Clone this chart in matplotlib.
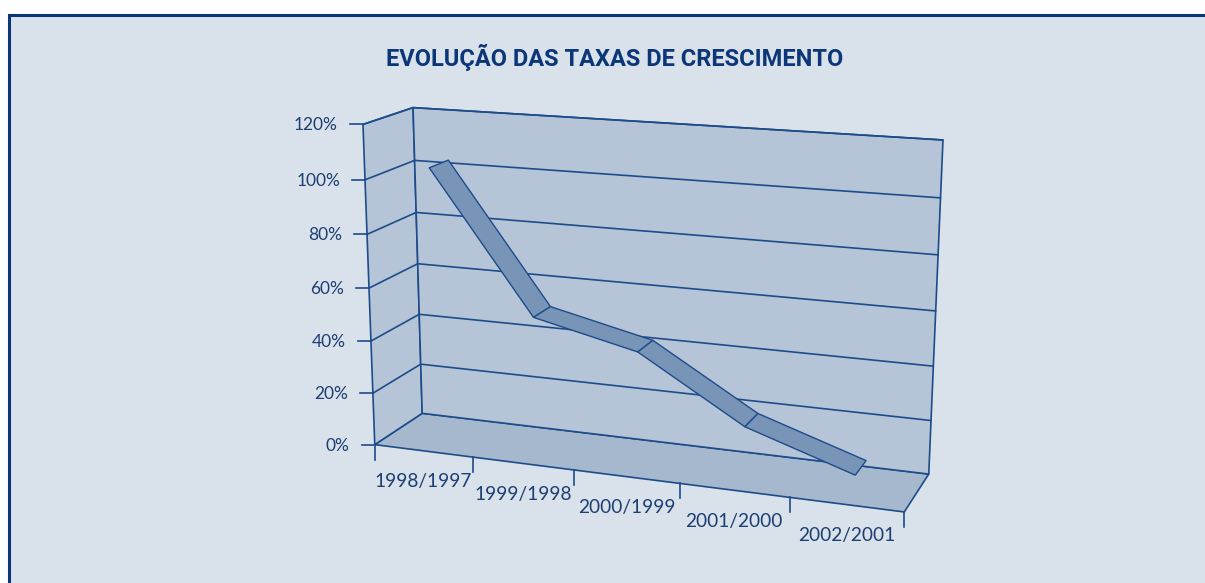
import numpy as np
import matplotlib
matplotlib.use("Agg")
import matplotlib.pyplot as plt
from matplotlib.patches import Polygon, Rectangle

# ---------------- data ----------------
title = "EVOLUÇÃO DAS TAXAS DE CRESCIMENTO"
categories = ["1998/1997", "1999/1998", "2000/1999", "2001/2000", "2002/2001"]
growth = [1.036, 0.517, 0.428, 0.196, 0.067]
y_ticks = [0.0, 0.2, 0.4, 0.6, 0.8, 1.0, 1.2]
y_tick_labels = ["0%", "20%", "40%", "60%", "80%", "100%", "120%"]

# ---------------- layout ----------------
W, H = 1205, 583
VMAX = 1.2
NCAT = len(categories)
# screen position of the 3D box corners (category, value, depth) -> pixel
box_3d = [(0, 0, 0), (0, VMAX, 0), (0, 0, 1), (0, VMAX, 1),
          (NCAT, VMAX, 1), (NCAT, 0, 1), (NCAT, 0, 0)]
box_px = [(375, 445), (363, 124), (422, 413), (413, 108),
          (943, 140), (929, 474), (904, 512)]
# ribbon depth extent (fraction of box depth)
D0, D1 = 0.29, 0.69


def fit_camera(X, x):
    A = []
    for (c, v, d), (u, w) in zip(X, x):
        Xh = [c, v, d, 1.0]
        A.append(Xh + [0, 0, 0, 0] + [-u * t for t in Xh])
        A.append([0, 0, 0, 0] + Xh + [-w * t for t in Xh])
    _, _, Vt = np.linalg.svd(np.array(A, float))
    return Vt[-1].reshape(3, 4)


P = fit_camera(box_3d, box_px)


def proj(c, v, d):
    p = P @ np.array([c, v, d, 1.0])
    return p[0] / p[2], p[1] / p[2]


BG = "#d9e1ea"
WALL = "#b5c4d7"
FLOOR = "#a5b8ce"
RIBBON = "#7894b7"
LINE = "#1d4c8a"
NAVY = "#0b3677"
TXT = "#1d3f73"

fig = plt.figure(figsize=(W / 100, H / 100), dpi=100)
fig.patch.set_facecolor("white")
ax = fig.add_axes([0, 0, 1, 1])
ax.set_xlim(0, W)
ax.set_ylim(H, 0)
ax.axis("off")

ax.add_patch(Rectangle((9, 15), W + 20, H + 20, facecolor=BG,
                       edgecolor=NAVY, linewidth=2.2, zorder=0))

ax.text(W / 2 + 12, 57, title, ha="center", va="center", fontsize=17,
        fontweight="bold", color=NAVY, family=["Roboto", "DejaVu Sans"])


def poly(pts3, fc, lw=1.2, z=1):
    pts = [proj(*p) for p in pts3]
    ax.add_patch(Polygon(pts, closed=True, facecolor=fc, edgecolor=LINE,
                         linewidth=lw, zorder=z, joinstyle="round"))


def line3(pts3, lw=1.2, z=2):
    pts = np.array([proj(*p) for p in pts3])
    ax.plot(pts[:, 0], pts[:, 1], color=LINE, lw=lw, zorder=z,
            solid_capstyle="round")


# floor, left wall, back wall
poly([(0, 0, 0), (NCAT, 0, 0), (NCAT, 0, 1), (0, 0, 1)], FLOOR)
poly([(0, 0, 0), (0, VMAX, 0), (0, VMAX, 1), (0, 0, 1)], WALL)
poly([(0, 0, 1), (NCAT, 0, 1), (NCAT, VMAX, 1), (0, VMAX, 1)], WALL)

# gridlines
for v in y_ticks[1:]:
    line3([(0, v, 0), (0, v, 1), (NCAT, v, 1)])

# value-axis ticks and labels
for v, lab in zip(y_ticks, y_tick_labels):
    x0, y0 = proj(0, v, 0)
    ax.plot([x0 - 13, x0], [y0, y0], color=LINE, lw=1.2, zorder=2)
    ax.text(x0 - 25, y0 + 1, lab, ha="right", va="center", fontsize=12.5,
            color=TXT, family="Lato")

# category ticks and labels
for k in range(NCAT + 1):
    x0, y0 = proj(k, 0, 0)
    ax.plot([x0, x0], [y0, y0 + 15], color=LINE, lw=1.2, zorder=2)
for k, lab in enumerate(categories):
    x0, y0 = proj(k + 0.5, 0, 0)
    ax.text(x0, y0 + 31, lab, ha="center", va="center", fontsize=13.8,
            color=TXT, family="Lato")

# ribbon
xs = np.arange(NCAT) + 0.5
for i in range(NCAT - 1):
    poly([(xs[i], growth[i], D0), (xs[i + 1], growth[i + 1], D0),
          (xs[i + 1], growth[i + 1], D1), (xs[i], growth[i], D1)],
         RIBBON, lw=1.0, z=3)

fig.savefig("out.png", dpi=100, facecolor=fig.get_facecolor())
